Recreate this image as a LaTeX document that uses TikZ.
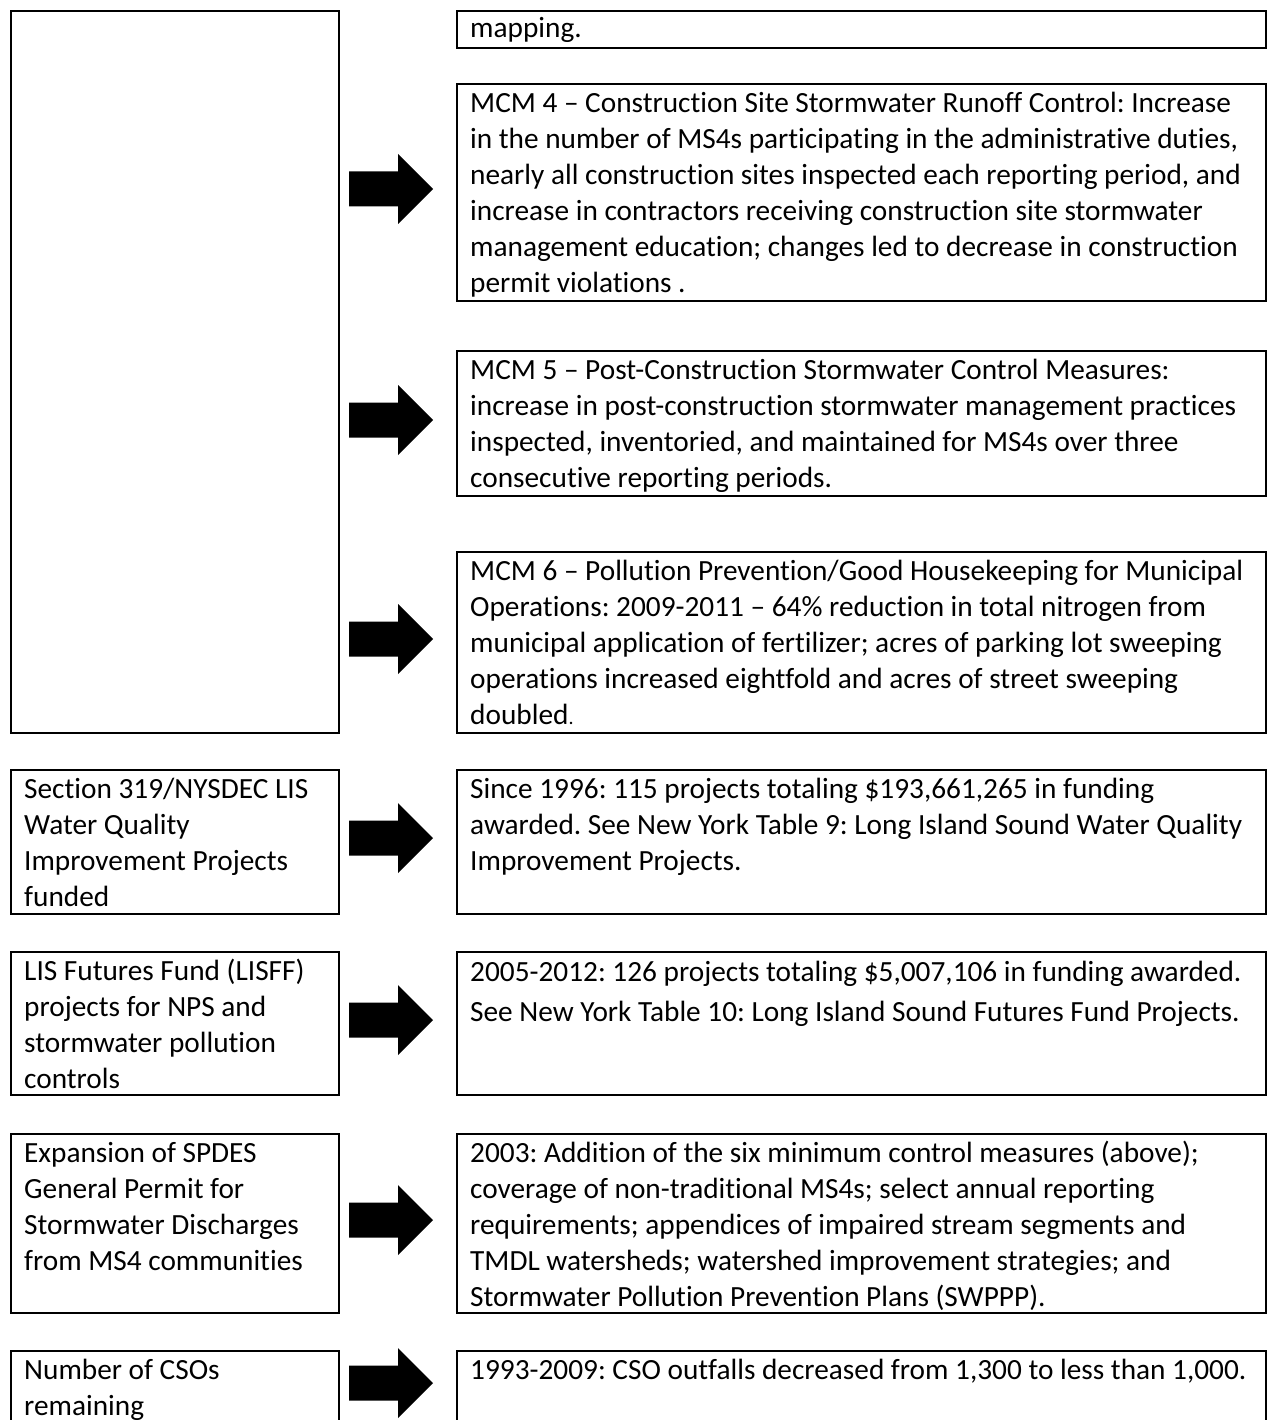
\documentclass[tikz,border=0pt]{standalone}
\usepackage{fontspec}
\setmainfont{Carlito}[Ligatures=NoCommon]
\frenchspacing
\usetikzlibrary{calc}
\tikzset{
  box/.style={draw=black, line width=2pt, inner sep=0pt, anchor=north west, minimum width=#1},
  lbox/.style={box=328pt},
  rbox/.style={box=809pt},
  txt/.style={anchor=north west, inner sep=0pt, align=left, font=\fontsize{29.3}{36}\selectfont\frenchspacing},
  txtwide/.style={txt, font=\fontsize{29.3}{40}\selectfont\frenchspacing},
  bigarr/.pic={\fill[black] (-42,-17.5) -- (7,-17.5) -- (7,-35) -- (42,0) -- (7,35) -- (7,17.5) -- (-42,17.5) -- cycle;}
}
\begin{document}
\begin{tikzpicture}[x=1pt,y=1pt]
\useasboundingbox[fill=white] (0,0) rectangle (1267,-1420);

% left column
\node[lbox, minimum height=722pt] (L0) at (10,-10) {};
\node[lbox, minimum height=144pt] (L1) at (10,-769) {};
\node[lbox, minimum height=143pt] (L2) at (10,-951) {};
\node[lbox, minimum height=179pt] (L3) at (10,-1133) {};
\node[lbox, minimum height=120pt] (L4) at (10,-1350) {};

% right column
\node[rbox, minimum height=37pt] (R0) at (456,-10) {};
\node[rbox, minimum height=217pt] (R1) at (456,-83) {};
\node[rbox, minimum height=145pt] (R2) at (456,-350) {};
\node[rbox, minimum height=181pt] (R3) at (456,-551) {};
\node[rbox, minimum height=144pt] (R4) at (456,-769) {};
\node[rbox, minimum height=143pt] (R5) at (456,-951) {};
\node[rbox, minimum height=179pt] (R6) at (456,-1133) {};
\node[rbox, minimum height=120pt] (R7) at (456,-1350) {};

% texts left
\node[txt] (T1) at ($(L1.north west)+(14,-4)$) {\strut Section 319/NYSDEC LIS\\Water Quality\\Improvement Projects\\funded};
\node[txt] (T2) at ($(L2.north west)+(14,-4)$) {\strut LIS Futures Fund (LISFF)\\projects for NPS and\\stormwater pollution\\controls};
\node[txt] (T3) at ($(L3.north west)+(14,-4)$) {\strut Expansion of SPDES\\General Permit for\\Stormwater Discharges\\from MS4 communities};
\node[txt] (T4) at ($(L4.north west)+(14,-4)$) {\strut Number of CSOs\\remaining};

% texts right
\node[txt] (S0) at ($(R0.north west)+(14,-2)$) {\strut mapping.};
\node[txt] (S1) at ($(R1.north west)+(14,-4)$) {\strut MCM 4 – Construction Site Stormwater Runoff Control: Increase\\in the number of MS4s participating in the administrative duties,\\nearly all construction sites inspected each reporting period, and\\increase in contractors receiving construction site stormwater\\management education; changes led to decrease in construction\\permit violations .};
\node[txt] (S2) at ($(R2.north west)+(14,-4)$) {\strut MCM 5 – Post-Construction Stormwater Control Measures:\\increase in post-construction stormwater management practices\\inspected, inventoried, and maintained for MS4s over three\\consecutive reporting periods.};
\node[txt] (S3) at ($(R3.north west)+(14,-4)$) {\strut MCM 6 – Pollution Prevention/Good Housekeeping for Municipal\\Operations: 2009-2011 – 64\% reduction in total nitrogen from\\municipal application of fertilizer; acres of parking lot sweeping\\operations increased eightfold and acres of street sweeping\\doubled{\fontsize{20}{36}\selectfont.}};
\node[txt] (S4) at ($(R4.north west)+(14,-4)$) {\strut Since 1996: 115 projects totaling \$193,661,265 in funding\\awarded. See New York Table 9: Long Island Sound Water Quality\\Improvement Projects.};
\node[txtwide] (S5) at ($(R5.north west)+(14,-2)$) {\strut 2005-2012: 126 projects totaling \$5,007,106 in funding awarded.\\See New York Table 10: Long Island Sound Futures Fund Projects.};
\node[txt] (S6) at ($(R6.north west)+(14,-4)$) {\strut 2003: Addition of the six minimum control measures (above);\\coverage of non-traditional MS4s; select annual reporting\\requirements; appendices of impaired stream segments and\\TMDL watersheds; watershed improvement strategies; and\\Stormwater Pollution Prevention Plans (SWPPP).};
\node[txt] (S7) at ($(R7.north west)+(14,-4)$) {\strut 1993-2009: CSO outfalls decreased from 1,300 to less than 1,000.};

% block arrows
\pic (A1) at ($(R1.north west)+(-65,-106)$) {bigarr};
\pic (A2) at ($(R2.north west)+(-65,-70)$) {bigarr};
\pic (A3) at ($(R3.north west)+(-65,-88)$) {bigarr};
\pic (A4) at ($(R4.north west)+(-65,-69)$) {bigarr};
\pic (A5) at ($(R5.north west)+(-65,-69)$) {bigarr};
\pic (A6) at ($(R6.north west)+(-65,-87)$) {bigarr};
\pic (A7) at ($(R7.north west)+(-65,-33)$) {bigarr};
\end{tikzpicture}
\end{document}
